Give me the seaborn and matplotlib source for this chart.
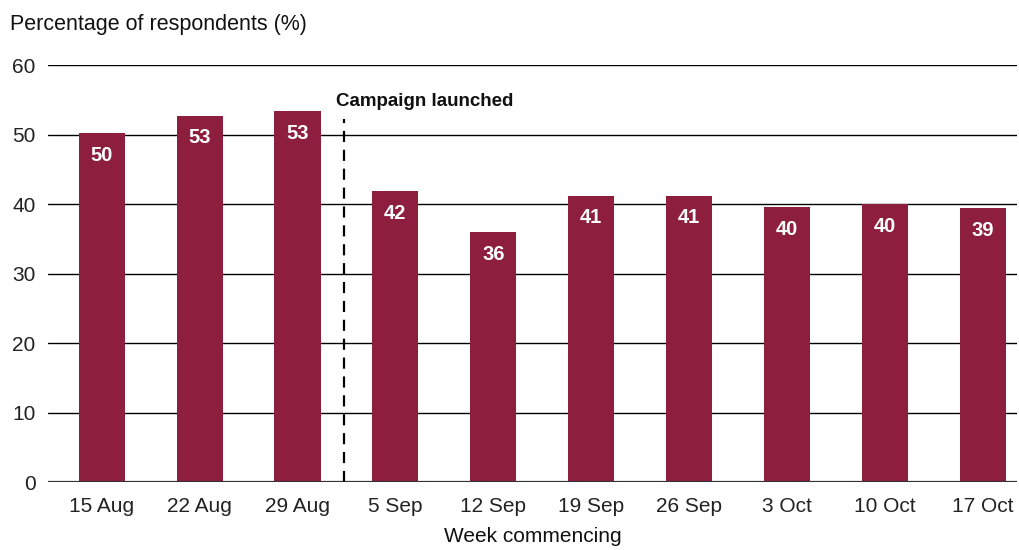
import matplotlib
matplotlib.use("Agg")
import matplotlib.pyplot as plt
import seaborn as sns
import pandas as pd

weeks = ["15 Aug", "22 Aug", "29 Aug", "5 Sep", "12 Sep", "19 Sep",
         "26 Sep", "3 Oct", "10 Oct", "17 Oct"]
values = [50.2, 52.7, 53.4, 41.9, 36.0, 41.2, 41.2, 39.6, 40.0, 39.4]
labels = ["50", "53", "53", "42", "36", "41", "41", "40", "40", "39"]
yticks = [0, 10, 20, 30, 40, 50, 60]

df = pd.DataFrame({"week": weeks, "value": values})

sns.set_theme(style="white")
plt.rcParams["font.family"] = ["Liberation Sans", "DejaVu Sans"]

fig = plt.figure(figsize=(10.19, 5.5), dpi=100)
ax = fig.add_axes([0.047, 0.1236, 0.951, 0.7582])

color = "#8E1E3D"
sns.barplot(data=df, x="week", y="value", color=color, width=0.47,
            saturation=1, ax=ax, zorder=3, linewidth=0, edgecolor=color)

ax.set_ylim(0, 60)
ax.set_xlim(-0.55, 9.35)
ax.set_yticks(yticks)
ax.set_yticklabels([str(t) for t in yticks])
for t in yticks[1:]:
    ax.axhline(t, color="black", lw=1.0, zorder=1)
ax.axhline(0, color="#333333", lw=1.6, zorder=4)

for s in ax.spines.values():
    s.set_visible(False)
ax.tick_params(axis="both", length=0, labelsize=15, colors="#222222")
ax.tick_params(axis="y", pad=9)
ax.tick_params(axis="x", pad=11)

for i, (v, lab) in enumerate(zip(values, labels)):
    ax.annotate(lab, (i, v), xytext=(0, -16), textcoords="offset points",
                ha="center", va="center", color="white", fontsize=14.5,
                fontweight="bold", zorder=5)

ax.plot([2.47, 2.47], [0, 52.3], color="black", lw=1.6,
        linestyle=(0, (5, 3.5)), zorder=4)
ax.text(2.39, 54.7, "Campaign launched", fontsize=13.5, fontweight="bold",
        color="#111111", ha="left", va="center")

ax.set_xlabel("Week commencing", fontsize=15, color="#111111", labelpad=8)
ax.set_ylabel("")
fig.text(0.0098, 0.955, "Percentage of respondents (%)", fontsize=15.5,
         color="#111111", ha="left", va="center")

fig.savefig("out.png", dpi=100)
